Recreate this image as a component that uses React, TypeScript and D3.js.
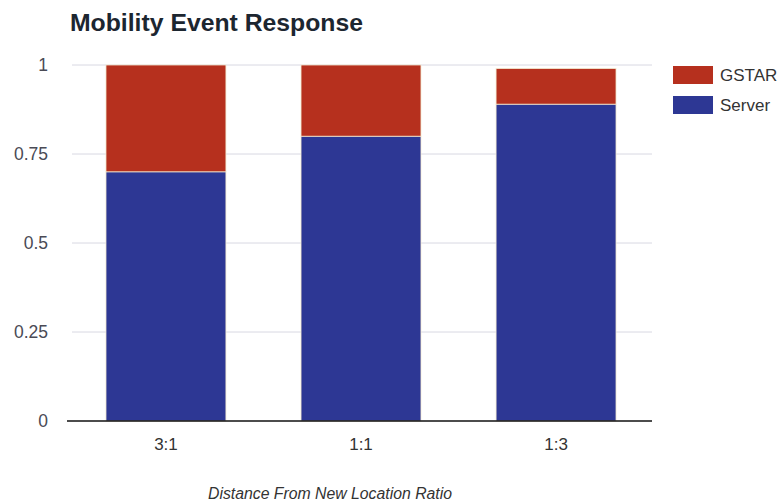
import React from "react";
import * as d3 from "d3";

const categories = ["3:1", "1:1", "1:3"];
const serverValues = [0.70, 0.80, 0.89];
const gstarValues = [0.30, 0.20, 0.10];
const yTicks = [0, 0.25, 0.5, 0.75, 1];
const yTickLabels = ["0", "0.25", "0.5", "0.75", "1"];
const seriesNames = ["Server", "GSTAR"];
const seriesColors = ["#2d3794", "#b6301e"];
const legendOrder = ["GSTAR", "Server"];

const W = 783;
const H = 503;

export default function App() {
  const x = d3.scaleBand<string>().domain(categories).range([66, 656]).paddingInner(0.385).paddingOuter(0.205);
  const y = d3.scaleLinear().domain([0, 1]).range([421, 65]);

  const rows = categories.map((c, i) => ({ cat: c, Server: serverValues[i], GSTAR: gstarValues[i] }));
  const stacked = d3.stack<any>().keys(seriesNames)(rows);
  const color = d3.scaleOrdinal<string, string>().domain(seriesNames).range(seriesColors);

  const font = "'Liberation Sans', Arial, sans-serif";

  return (
    <svg width={W} height={H} style={{ position: "absolute", left: 0, top: 0, background: "#fff" }} fontFamily={font}>
      <text x={70} y={31} fontSize={23} fontWeight="bold" fill="#1c2630" textLength={293} lengthAdjust="spacingAndGlyphs">Mobility Event Response</text>
      {yTicks.map((t, i) => (
        <g key={t}>
          {t !== 0 && <line x1={72} x2={652} y1={y(t)} y2={y(t)} stroke="#d8d8e2" strokeWidth={1} />}
          <text x={48} y={y(t)} dy="0.35em" textAnchor="end" fontSize={17.5} fill="#4a4a55">{yTickLabels[i]}</text>
        </g>
      ))}
      {stacked.map((s) => (
        <g key={s.key}>
          {s.map((d, i) => (
            <rect
              key={i}
              x={x(categories[i])}
              width={x.bandwidth()}
              y={y(d[1])}
              height={y(d[0]) - y(d[1])}
              fill={color(s.key)}
              stroke="#f3e9d0"
              strokeWidth={0.8}
            />
          ))}
        </g>
      ))}
      <line x1={67} x2={652} y1={y(0)} y2={y(0)} stroke="#111" strokeWidth={1.6} />
      {categories.map((c) => (
        <text key={c} x={(x(c) as number) + x.bandwidth() / 2} y={450} textAnchor="middle" fontSize={17} fill="#333">{c}</text>
      ))}
      <text x={330} y={499} textAnchor="middle" fontSize={16} fontStyle="italic" fill="#333" textLength={244} lengthAdjust="spacingAndGlyphs">Distance From New Location Ratio</text>
      {legendOrder.map((name, i) => (
        <g key={name} transform={`translate(673, ${66 + i * 30})`}>
          <rect width={40} height={18} fill={color(name)} />
          <text x={47} y={9} dy="0.35em" fontSize={17} fill="#333">{name}</text>
        </g>
      ))}
    </svg>
  );
}
